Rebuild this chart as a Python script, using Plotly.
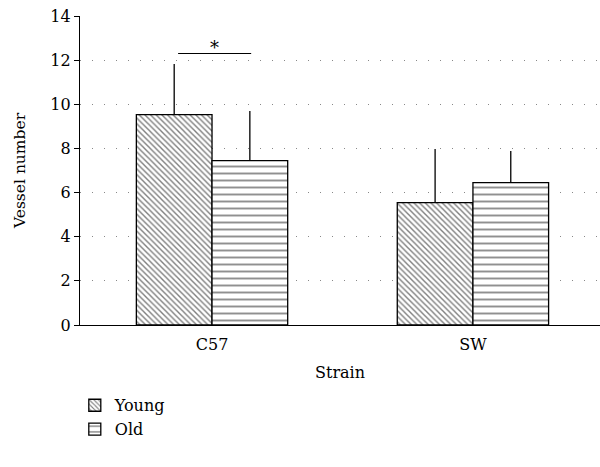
import plotly.graph_objects as go

categories = ["C57", "SW"]
young_vals = [9.53, 5.54]
young_err = [2.30, 2.43]
old_vals = [7.45, 6.45]
old_err = [2.25, 1.43]
y_ticks = [0, 2, 4, 6, 8, 10, 12, 14]
sig_x = [-0.13, 0.15]
sig_y = 12.3
sig_label = "*"

x_pos = list(range(len(categories)))
FONT = "DejaVu Serif"
FS = 16

fig = go.Figure()
fig.add_trace(go.Bar(
    x=x_pos, y=young_vals, name="Young",
    marker=dict(color="white", line=dict(color="black", width=1.3),
                pattern=dict(shape="\\", size=4, solidity=0.35, fgcolor="black", bgcolor="white")),
    error_y=dict(type="data", array=young_err, arrayminus=[0] * len(young_err),
                 symmetric=False, width=0, thickness=1.3, color="black"),
))
fig.add_trace(go.Bar(
    x=x_pos, y=old_vals, name="Old",
    marker=dict(color="white", line=dict(color="black", width=1.3),
                pattern=dict(shape="-", size=7, solidity=0.28, fgcolor="#222222", bgcolor="white")),
    error_y=dict(type="data", array=old_err, arrayminus=[0] * len(old_err),
                 symmetric=False, width=0, thickness=1.3, color="black"),
))
fig.add_trace(go.Scatter(
    x=sig_x, y=[sig_y, sig_y], mode="lines", line=dict(color="black", width=1.2),
    showlegend=False, hoverinfo="skip",
))
fig.add_annotation(x=sum(sig_x) / 2, y=sig_y, text=sig_label, showarrow=False,
                   yanchor="bottom", yshift=-6, font=dict(family=FONT, size=FS + 2, color="black"))

fig.update_layout(
    width=600, height=467,
    margin=dict(l=80, r=0, t=16, b=142),
    plot_bgcolor="white", paper_bgcolor="white",
    barmode="group", bargap=0.42, bargroupgap=0,
    font=dict(family=FONT, size=FS, color="black"),
    legend=dict(x=-0.01, y=-0.205, xanchor="left", yanchor="top",
                font=dict(family=FONT, size=FS), bgcolor="rgba(0,0,0,0)",
                tracegroupgap=0, itemwidth=30),
    xaxis=dict(
        range=[-0.506, 1.487], tickvals=x_pos, ticktext=categories,
        showline=True, linecolor="black", linewidth=1.2,
        ticks="outside", ticklen=5, tickcolor="rgba(0,0,0,0)",
        showgrid=False, zeroline=False,
        tickfont=dict(family=FONT, size=FS),
        title=dict(text="Strain", standoff=13, font=dict(family=FONT, size=FS)),
    ),
    yaxis=dict(
        range=[0, 14], tickvals=y_ticks,
        showline=True, linecolor="black", linewidth=1.2,
        ticks="outside", ticklen=5, tickcolor="black",
        showgrid=True, gridcolor="#888888", gridwidth=1, griddash="1px,11px",
        zeroline=False,
        title=dict(text="Vessel number", standoff=20, font=dict(family=FONT, size=FS - 0.5)),
        tickfont=dict(family=FONT, size=FS),
    ),
)

fig.write_html("out.html")
